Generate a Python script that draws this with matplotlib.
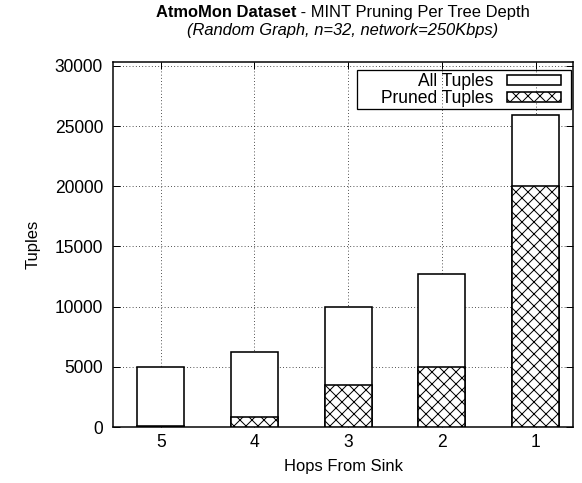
import matplotlib
matplotlib.use("Agg")
import matplotlib.pyplot as plt
from matplotlib.patches import Rectangle
import numpy as np

hops = ['5', '4', '3', '2', '1']
all_tuples = [5000, 6200, 10000, 12700, 25900]
pruned_tuples = [60, 850, 3500, 5000, 20000]
yticks = [0, 5000, 10000, 15000, 20000, 25000, 30000]

DPI = 72
W, H = 582, 483
plt.rcParams['font.family'] = ['Liberation Sans', 'DejaVu Sans']
plt.rcParams['hatch.linewidth'] = 1.0
plt.rcParams['hatch.color'] = 'black'

fig = plt.figure(figsize=(W / DPI, H / DPI), dpi=DPI)
L, R, T, B = 113, 573, 62, 427
ax = fig.add_axes([L / W, 1 - B / H, (R - L) / W, (B - T) / H])

x = np.arange(len(hops))
ax.bar(x, all_tuples, width=0.5, color='white', edgecolor='black', linewidth=1.6,
       label='All Tuples', zorder=3)
ax.bar(x, pruned_tuples, width=0.5, color='white', edgecolor='black', linewidth=1.6,
       hatch='xx', label='Pruned Tuples', zorder=4)

ax.set_xlim(-0.51, 4.4)
ax.set_ylim(0, 30330)
ax.set_xticks(x)
ax.set_xticklabels(hops)
ax.set_yticks(yticks)
ax.tick_params(direction='in', length=7, width=1, top=True, right=True,
               labelsize=17.5, colors='black')
ax.tick_params(axis='y', pad=10)
ax.tick_params(axis='x', pad=7)
ax.grid(True, linestyle=(0, (1, 3)), color='black', linewidth=0.8, zorder=1)
for s in ax.spines.values():
    s.set_linewidth(1.5)

ax.set_xlabel('Hops From Sink', fontsize=16.5, labelpad=8)
ax.set_ylabel('Tuples', fontsize=16.5, labelpad=14)

leg = ax.legend(loc='upper right', bbox_to_anchor=((562 - L) / (R - L), (B - 72) / (B - T)),
                borderaxespad=0, markerfirst=False, frameon=False,
                fontsize=17.5, handlelength=3.1, handleheight=0.5,
                handletextpad=0.75, borderpad=0.05, labelspacing=0.0)

fig.canvas.draw()
renderer = fig.canvas.get_renderer()

# legend frame with gnuplot-like asymmetric padding
lb = leg.get_window_extent(renderer)
fig.add_artist(Rectangle((lb.x0 - 24, lb.y0 - 1), lb.width + 33, lb.height + 3,
                         transform=None, facecolor='none', edgecolor='black',
                         linewidth=1.3, zorder=10))

# Title: mixed bold / normal on line 1, italic on line 2
cx = (L + R) / 2
t1 = fig.text(0, 0, 'AtmoMon Dataset', fontsize=16.5, fontweight='bold')
t2 = fig.text(0, 0, ' - MINT Pruning Per Tree Depth', fontsize=16.5)
w1 = t1.get_window_extent(renderer).width
w2 = t2.get_window_extent(renderer).width
x0 = cx - (w1 + w2) / 2
ybase1 = 1 - 17 / H
t1.set_position((x0 / W, ybase1))
t1.set_va('baseline')
t2.set_position(((x0 + w1) / W, ybase1))
t2.set_va('baseline')
fig.text(cx / W, 1 - 35.5 / H, '(Random Graph, n=32, network=250Kbps)', fontsize=16.5,
         fontstyle='italic', ha='center', va='baseline')

fig.savefig('out.png', dpi=DPI)
